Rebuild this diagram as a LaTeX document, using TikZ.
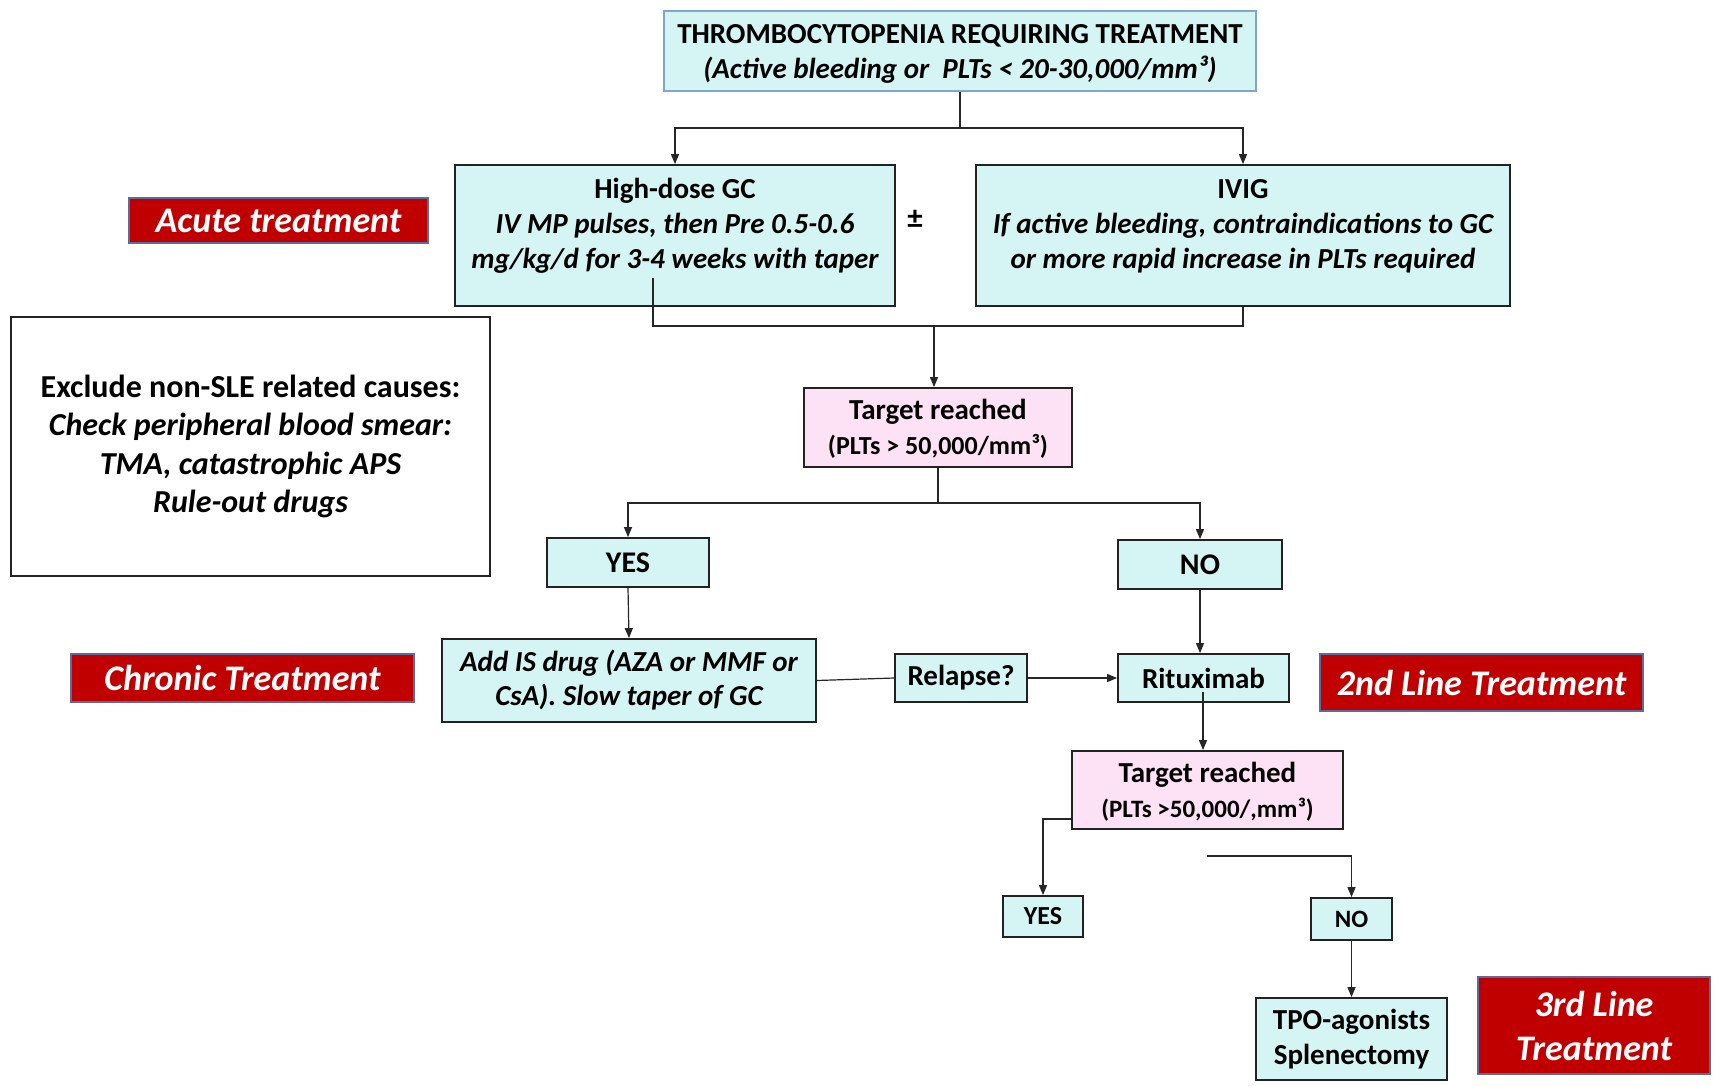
\documentclass[tikz,border=0pt]{standalone}
\usepackage{fontspec}
\setmainfont{Carlito}
\usetikzlibrary{arrows.meta}
\definecolor{cyanfill}{HTML}{D5F5F5}
\definecolor{pinkfill}{HTML}{FDE1F5}
\definecolor{redfill}{HTML}{C00000}
\definecolor{redborder}{HTML}{5B6B9B}
\definecolor{topborder}{HTML}{7FA6CC}
\definecolor{boxborder}{HTML}{222222}
\begin{document}
\begin{tikzpicture}[x=1pt,y=-1pt,
 txt/.style={inner sep=0pt, align=center, font=\fontsize{29}{35}\selectfont\bfseries},
 box/.style={txt, draw=boxborder, line width=1.8pt},
 cbox/.style={box, fill=cyanfill},
 pbox/.style={box, fill=pinkfill},
 rbox/.style={draw=redborder, line width=1.5pt, fill=redfill, text=white, inner sep=0pt, align=center, font=\fontsize{36}{44}\selectfont\bfseries\itshape},
 conn/.style={line width=1.2pt, draw=black!85},
 arr/.style={conn, -{Triangle[length=10pt,width=8pt]}},
]
\useasboundingbox (0,0) rectangle (1719,1085);
\fill[white] (0,0) rectangle (1719,1085);

% top
\node[cbox, draw=topborder, minimum width=592pt, minimum height=80pt] (top) at (960,51) {};
\node[txt] (topt) at (960,54)
 {THROMBOCYTOPENIA REQUIRING TREATMENT\\ {\itshape (Active bleeding or\ \ PLTs < 20-30,000/mm³)}};

% acute
\node[cbox, minimum width=440pt, minimum height=141pt] (gc) at (675,235.5) {};
\node[txt] (gct) at (675,226) {High-dose GC\\ {\itshape IV MP pulses, then Pre 0.5-0.6}\\ {\itshape mg/kg/d for 3-4 weeks with taper}};
\node[cbox, minimum width=534pt, minimum height=141pt] (ivig) at (1243,235.5) {};
\node[txt] (ivigt) at (1243,226) {IVIG\\ {\itshape If active bleeding, contraindications to GC}\\ {\itshape or more rapid increase in PLTs required}};
\node[txt, font=\fontsize{31}{35}\selectfont\bfseries] (pm) at (915,219) {±};
\node[rbox, minimum width=299pt, minimum height=45pt] (acute) at (278.5,220.5) {Acute treatment};

% exclude
\node[box, fill=white, minimum width=479pt, minimum height=259pt, font=\fontsize{32}{38.4}\selectfont\bfseries] (excl) at (250.5,446.5)
 {Exclude non-SLE related causes:\\ {\itshape Check peripheral blood smear:}\\ {\itshape TMA, catastrophic APS}\\ {\itshape Rule-out drugs}};

% target 1
\node[pbox, minimum width=268pt, minimum height=79pt] (t1) at (938,427.5) {};
\node[txt] (t1t) at (938,429)
 {Target reached\\ {\fontsize{26}{33}\selectfont (PLTs > 50,000/mm³)}};
\node[cbox, minimum width=162pt, minimum height=49pt, font=\fontsize{30}{35}\selectfont\bfseries] (yes1) at (628,562.5) {YES};
\node[cbox, minimum width=164pt, minimum height=49pt, font=\fontsize{30}{35}\selectfont\bfseries] (no1) at (1200,564.5) {NO};

% chronic
\node[cbox, minimum width=374pt, minimum height=83pt, font=\fontsize{29}{34}\selectfont\bfseries\itshape] (addis) at (629,680.5)
 {Add IS drug (AZA or MMF or\\ CsA). Slow taper of GC};
\node[rbox, minimum width=343pt, minimum height=48pt] (chronic) at (242.5,678) {Chronic Treatment};
\node[cbox, minimum width=132pt, minimum height=48pt] (relapse) at (961,678) {Relapse?};
\node[cbox, minimum width=171pt, minimum height=48pt] (ritux) at (1203.5,678) {Rituximab};
\node[rbox, minimum width=323pt, minimum height=57pt] (second) at (1481.5,682.5) {2nd Line Treatment};

% target 2
\node[pbox, minimum width=271pt, minimum height=78pt] (t2) at (1207.5,790) {};
\node[txt] (t2t) at (1207.5,792)
 {Target reached\\ {\fontsize{25}{33}\selectfont (PLTs >50,000/,mm³)}};
\node[cbox, minimum width=80pt, minimum height=41pt, font=\fontsize{26}{30}\selectfont\bfseries] (yes2) at (1043,916.5) {YES};
\node[cbox, minimum width=81pt, minimum height=42pt, font=\fontsize{25}{30}\selectfont\bfseries] (no2) at (1351.5,919) {NO};
\node[cbox, minimum width=191pt, minimum height=82pt] (tpo) at (1351.5,1039) {TPO-agonists\\ Splenectomy};
\node[rbox, minimum width=232pt, minimum height=97pt] (third) at (1594,1025.5) {3rd Line\\ Treatment};

% connectors
\coordinate (j1) at (960,128);
\draw[conn] (top.south) -- (j1);
\draw[arr] (j1) -| (gc.north);
\draw[arr] (j1) -| (ivig.north);

\coordinate (gcin) at (653,278);
\coordinate (j2) at (934,326);
\draw[conn] (gcin) |- (j2);
\draw[conn] (ivig.south) |- (j2);
\draw[arr] (j2) -- (j2 |- t1.north);

\coordinate (j3) at (938,503);
\draw[conn] (t1.south) -- (j3);
\draw[arr] (j3) -| (yes1.north);
\draw[arr] (j3) -| (no1.north);

\draw[arr] (yes1.south) -- (addis.north);
\draw[conn] (addis.east) -- (relapse.west);
\draw[arr] (relapse.east) -- (ritux.west);
\draw[arr] (no1.south) -- (no1.south |- ritux.north);

\coordinate (rin) at (1203,692);
\draw[arr] (rin) -- (rin |- t2.north);
\draw[arr] ([yshift=-29pt]t2.west) -| (yes2.north);
\coordinate (fl) at (1207,856);
\draw[arr] (fl) -| (no2.north);
\draw[arr] (no2.south) -- (tpo.north);
\end{tikzpicture}
\end{document}
